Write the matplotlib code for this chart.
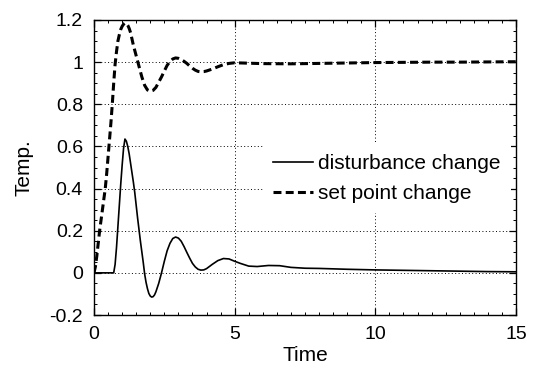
import matplotlib
matplotlib.use("Agg")
import matplotlib.pyplot as plt
from matplotlib.ticker import MultipleLocator

plt.rcParams['font.family'] = ['Liberation Sans', 'DejaVu Sans']

# set point change (dashed)
t_sp = [0, 0.05, 0.1, 0.15, 0.2, 0.25, 0.3, 0.35, 0.4, 0.45, 0.5, 0.55, 0.6, 0.65, 0.7,
        0.75, 0.8, 0.85, 0.9, 0.95, 1.0, 1.05, 1.1, 1.15, 1.2, 1.25, 1.3, 1.35, 1.4, 1.5,
        1.6, 1.7, 1.8, 1.9, 2.0, 2.1, 2.2, 2.3, 2.4, 2.5, 2.6, 2.7, 2.8, 2.9, 3.0, 3.1,
        3.2, 3.3, 3.4, 3.5, 3.6, 3.7, 3.8, 3.9, 4.0, 4.2, 4.4, 4.6, 4.8, 5.0, 5.5, 6, 7,
        8, 9, 10, 11, 12, 13, 14, 15]
y_sp = [0, 0.03, 0.08, 0.14, 0.2, 0.25, 0.3, 0.35, 0.4, 0.47, 0.55, 0.63, 0.71, 0.8, 0.9,
        0.99, 1.05, 1.1, 1.13, 1.155, 1.17, 1.18, 1.185, 1.185, 1.175, 1.16, 1.14, 1.11, 1.08, 1.03,
        0.98, 0.93, 0.89, 0.868, 0.862, 0.866, 0.88, 0.905, 0.93, 0.958, 0.985, 1.003, 1.015, 1.02, 1.018, 1.012,
        1.004, 0.994, 0.982, 0.971, 0.962, 0.956, 0.954, 0.955, 0.958, 0.967, 0.978, 0.988, 0.994, 0.997, 0.995, 0.993, 0.992,
        0.994, 0.996, 0.998, 0.999, 1.0, 1.0, 1.001, 1.002]

# disturbance change (solid)
t_d = [0, 0.7, 0.75, 0.8, 0.85, 0.9, 0.95, 1.0, 1.05, 1.1, 1.15, 1.2, 1.25, 1.3, 1.35,
       1.4, 1.45, 1.5, 1.55, 1.6, 1.65, 1.7, 1.75, 1.8, 1.85, 1.9, 1.95, 2.0, 2.05, 2.1,
       2.15, 2.2, 2.3, 2.4, 2.5, 2.6, 2.7, 2.8, 2.9, 3.0, 3.1, 3.2, 3.3, 3.4, 3.5, 3.6,
       3.7, 3.8, 3.9, 4.0, 4.2, 4.4, 4.6, 4.8, 5.0, 5.2, 5.5, 5.8, 6.2, 6.6, 7.0, 7.5,
       8, 9, 10, 11, 12, 13, 14, 15]
y_d = [0, 0, 0.04, 0.12, 0.22, 0.32, 0.42, 0.51, 0.59, 0.635, 0.625, 0.6, 0.565, 0.52, 0.475,
       0.43, 0.38, 0.32, 0.26, 0.205, 0.15, 0.1, 0.05, -0.005, -0.045, -0.075, -0.098, -0.11, -0.115, -0.113,
       -0.105, -0.09, -0.05, 0.0, 0.055, 0.105, 0.14, 0.163, 0.17, 0.165, 0.15, 0.125, 0.097, 0.07, 0.045, 0.028,
       0.017, 0.013, 0.014, 0.02, 0.04, 0.058, 0.068, 0.066, 0.055, 0.045, 0.032, 0.03, 0.035, 0.034, 0.026, 0.022,
       0.021, 0.017, 0.014, 0.012, 0.01, 0.008, 0.006, 0.005]

x_ticks = [0, 5, 10, 15]
y_ticks = [-0.2, 0, 0.2, 0.4, 0.6, 0.8, 1.0, 1.2]
y_tick_labels = ['-0.2', '0', '0.2', '0.4', '0.6', '0.8', '1', '1.2']

fig = plt.figure(figsize=(5.35, 3.65), dpi=100)
ax = fig.add_axes([94/535, 1-315/365, 422/535, 295/365])

ax.plot(t_d, y_d, color='black', lw=1.2, label='disturbance change')
ax.plot(t_sp, y_sp, color='black', lw=2.2, dashes=(2.6, 1.4), label='set point change')

ax.set_xlim(0, 15)
ax.set_ylim(-0.2, 1.2)
ax.set_xticks(x_ticks)
ax.set_xticklabels([str(v) for v in x_ticks])
ax.set_yticks(y_ticks)
ax.set_yticklabels(y_tick_labels)
ax.xaxis.set_minor_locator(MultipleLocator(0.5))
ax.yaxis.set_minor_locator(MultipleLocator(0.05))
ax.tick_params(which='both', direction='in', top=True, right=True, labelsize=14, colors='black')
ax.tick_params(which='major', length=5, width=0.9, pad=8)
ax.tick_params(which='minor', length=2.5, width=0.7)
ax.grid(True, which='major', color='black', linestyle=(0, (1, 2.5)), linewidth=0.7)
for s in ax.spines.values():
    s.set_linewidth(1.0)

ax.set_xlabel('Time', fontsize=15, labelpad=2)
ax.set_ylabel('Temp.', fontsize=15, labelpad=11)

leg = ax.legend(loc='upper left', bbox_to_anchor=(0.4005, 0.5797), fontsize=15,
                frameon=True, fancybox=False, framealpha=1, edgecolor='none',
                facecolor='white', handlelength=1.9, handletextpad=0.25,
                labelspacing=0.5, borderpad=0.5, borderaxespad=0)

fig.savefig('out.png', dpi=100)
